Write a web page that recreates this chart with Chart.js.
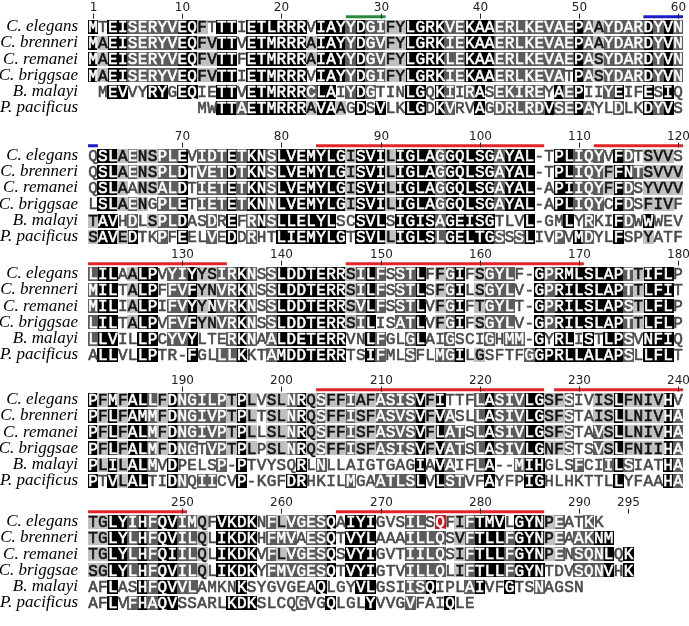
<!DOCTYPE html>
<html>
<head>
<meta charset="utf-8">
<script src="https://cdn.jsdelivr.net/npm/chart.js@4.4.0/dist/chart.umd.min.js"></script>
<style>html,body{margin:0;padding:0;background:#fff}</style>
</head>
<body>
<canvas id="alignment" width="689" height="626"></canvas>
<script>
var species = ['C. elegans', 'C. brenneri', 'C. remanei', 'C. briggsae', 'B. malayi', 'P. pacificus'];

// residues, 60 columns per block ('.' = no residue, '-' = gap)
var elegansSeq = [
  'MTEISERYVE QFTTTIETLR RRVIAYYDGI FYLGRKVEKA AERLKEVAEP AAYDARDYVN',
  'QSLAENSPLE VIDTETKNSL VEMYLGISVI LIGLAGGQLS GAYAL-TPLI QYVFDTSVVS',
  'LILAALPVYI YYSIRKNSSL DDTERRSILF SSTLFFGIFS GYLF-GPRML SLAPTTIFLP',
  'PFMFALLFDN GILPTPLVSL NRQSFFIAFA SISVFITTFL ASIVLGSFSI VISLFNIVHV',
  'TGLYIHFQVI MQFVKDKNFL VGESQAIYIG VSILSQFIFT MVLGYNPEAT KK'
];
var brenneriSeq = [
  'MAEISERYVE QFVTTVETMR RRAIAYYDGV FYLGRKIEKA AERLKEVAEP AAYDARDYVN',
  'QSLAENSPLD TVETDTKNSL VEMYLGISVI LIGLAGGQLS GAYAL-TPLI QYFFNTSVVV',
  'MILTALPFFV FYNVRKNSSL DDTERRSILF SSTLSFGILS GYLV-GPRIL SLAPTTLFIT',
  'PFLFAMMFDN GIVPTPLTSL NRQSFFISFA SVSVFVASLL ASIVLGSFST AISLLNIVHA',
  'TGLYLHFQVI LQLIKDKHFM VAESQTVYLA AAILLQSVFT LLFGYNPEAA KNM'
];
var remaneiSeq = [
  'MAEISERYVE QFVTTFETMR RRAIAYYDGV FYLGRKLEKA AERLKEVAEP ASYDARDYVN',
  'QSLAANSALD TIETETKNSL VEMYLGISVI LIGLAGGQLS GAYAL-APII QYFFDSYVVV',
  'MILIALPIFV YYNVRKNSSL DDTERRSVLF SSTLVFGIFT GYLT-GPRIL SLAPSTLFLP',
  'PFLFALMFDN GIVPTPLLSL NRQSFFISFA SVSVFLATSL ASIVLGSFST AVSLLNIVHA',
  'TGLYLHFQII LQLIKDKVFL VGESQSVYIG VTIILQSIFT LLFGYNPENS QNLQK'
];
var briggsaeSeq = [
  'MAEISERYVE QFVTTIETMR RRVIAYYDGI FYLGRKIEKA AERLKEVATP ASYDARDYVN',
  'LSLAENGPLE TIETETKNNL VEMYLGISVI LIGLAGGQLS GAYAL-APLI QYCFDSFIVF',
  'LILTALPVFV FYNVRKNSSL DDTERRSILI SATLVFGIFS GYLV-GPRIL SLAPTTLFLP',
  'PFLFALMFDN GTVPTPLPSL NRQSFFISFA SISVFVATSL ASIVLGNFST SVSLFNIIHA',
  'SGLYLHFQVI LQLIKDKYFM VGESQTVYIG TVILLQLIFT LLFGYNTDVS QNVHK'
];
var malayiSeq = [
  '.MEVVYRYGE QIETTVETMR RRCLAIYDGT INLGQKIIRA SEKIREYAEP IIYEIFESIQ',
  'TAVHDLSPLD ASDREFRNSL LELYLSCSVL SIGISAGEIS GTLVL-GMLY RKIFDWWWEV',
  'LLVILLPCYV YLTERKNAAL DETERRVNLF GLGLAIGSCI GHMM-GYRLI STLPSVNFIQ',
  'PLILALMVDP ELSP-PTVYS QRLNLLAIGT GAGIAVAIFL A--MIHGLSF CIILSIATHA',
  'AFLASHFQVV LAMKNKSYGV GEAQLGYVLG SIISQIPLAI VFGTSNAGSN'
];
var pacificusSeq = [
  '.......... .MWTTAETMR RRAVAAGDSV LKLGDKVRVA GDRLRDVSEP AYLDLKDYVS',
  'SAVEDTKPFE ELVEDDRHTL IEMYLGTSVL LIGLSLGELT GSSSLIVPVM DYLFSPYATF',
  'ALLVLLPTR- FGLLLKKTAM DDTERRTSIF MLSFLMGILG SFTFGGPRLL ALAPSLLFLT',
  'PTVLALTIDN QIICVP-KGF DRHKILMGAA TLSLVLSTVF AYFPIGHLHK TTLLYFAAHA',
  'AFLVFHAQVS SARLKDKSLC QGVGQLGLYV VGVFAIQLE'
];

// conservation shading per residue: 0 none, 1 light, 2 dark, 3 black, 4 red
var elegansShade = [
  '3033222223 3103303333 3303332322 1133332233 3222222223 2122223232',
  '0331211223 0222323323 3333331333 1333323333 3233300332 2203201110',
  '2330133022 3112232023 3333331232 0223012301 2220032333 3333213330',
  '3131332132 2222131011 2312112112 2223130002 3222331120 0113111130',
  '1133232332 2103333021 2222303330 0022040123 3303331200 20'
];
var brenneriShade = [
  '3133222223 3113303333 3313332322 1133332233 3222222223 2122223232',
  '0331211223 0222323323 3333331333 1333323333 3233300332 2213321111',
  '2330133022 3112232023 3333331232 0223012301 2220032333 3333213330',
  '3131332132 2222131011 2312112112 2223132002 3222331120 0113111132',
  '1133232332 2103333022 2022303330 0022220123 3323331202 233'
];
var remaneiShade = [
  '3133222223 3113303333 3313332322 1133332233 3222222223 2122223232',
  '0331011223 0222323323 3333331333 1333323333 3233300332 2213201111',
  '2330133022 3132232023 3333331232 0223012301 2220032333 3333213330',
  '3131332132 2222131011 2312112112 2223132202 3222331120 0213111132',
  '1133232332 2103333021 2222303330 0022220123 3323331202 22303'
];
var briggsaeShade = [
  '3133222223 3113303333 3303332322 1133332233 3222222203 2122223232',
  '0331210223 0222323323 3333331333 1333323333 3233300332 2203201110',
  '2330133022 3112232023 3333331230 0223012301 2220032333 3333213330',
  '3131332132 2022131011 2312112112 2223132202 3222331120 0213111132',
  '1133232332 2103333022 2222303330 0022220123 3323330002 22303'
];
var malayiShade = [
  '0033003303 3003303333 3323302320 0033032023 0222220323 0023003030',
  '1330201223 0020302323 3333300333 0333323333 3000300030 2003203000',
  '2330033022 3000232023 3333330032 0023002000 2022030330 3033203330',
  '3131332030 0002030000 0302000000 0003032002 3002330002 0023200032',
  '0030032332 2000030000 0003000330 0022300023 0030020000'
];
var pacificusShade = [
  '0000000000 0003323333 3313310303 0033032003 0222223223 2002003230',
  '1331300203 0020302003 3333330333 1333323333 3202300203 2003001000',
  '0330033000 3002230023 3333330032 0020022301 0000233333 3333203330',
  '3031330032 0220030000 3300002002 2223032200 3000330000 0003000032',
  '0030232330 0000333000 0200300030 002000300'
];

var positionLabels = [1, 10, 20, 30, 40, 50, 60, 70, 80, 90, 100, 110, 120,
  130, 140, 150, 160, 170, 180, 190, 200, 210, 220, 230, 240,
  250, 260, 270, 280, 290, 295];

// secondary structure, first and last residue
var helices = [[84, 106], [112, 134], [147, 170], [204, 226], [228, 250], [266, 286]];
var strands = [[27, 30]];
var turns = [[57, 61]];

var sequences = [elegansSeq, brenneriSeq, remaneiSeq, briggsaeSeq, malayiSeq, pacificusSeq];
var shading = [elegansShade, brenneriShade, remaneiShade, briggsaeShade, malayiShade, pacificusShade];

var BLOCK = 60;
var ROW_PX = 16.5;
var H = 626;
var BLOCK_TOP = [22, 153, 273, 401, 525];  // pixel row of first sequence in each block
var BAR_ROWS = 10 / ROW_PX;

function blockRow(b) { return BLOCK_TOP[b] / ROW_PX; }

var shadeColors = ['', '#c0c0c0', '#5c5c5c', '#000000', '#c8191f'];
var textColors = ['#4a4a4a', '#111111', '#ffffff', '#ffffff', '#ffffff'];

var cellData = [[], [], [], [], []];
var letters = [];
var rowTicks = [];
for (var b = 0; b < 5; b++) {
  for (var s = 0; s < species.length; s++) rowTicks.push(blockRow(b) + s);
}

sequences.forEach(function (blocks, s) {
  blocks.forEach(function (str, b) {
    var seq = str.replace(/ /g, '');
    var shd = shading[s][b].replace(/ /g, '');
    for (var i = 0; i < seq.length; i++) {
      var ch = seq[i];
      if (ch === '.') continue;
      var level = +(shd[i] || 0);
      var pt = {x: i + 1, y: blockRow(b) + s};
      if (level > 0) cellData[level].push(pt);
      letters.push({x: pt.x, y: pt.y, ch: ch, level: level});
    }
  });
});

function barData(features) {
  var pts = [];
  features.forEach(function (f) {
    var b0 = Math.floor((f[0] - 1) / BLOCK), b1 = Math.floor((f[1] - 1) / BLOCK);
    for (var b = b0; b <= b1; b++) {
      var a = Math.max(f[0], b * BLOCK + 1) - b * BLOCK;
      var e = Math.min(f[1], b * BLOCK + BLOCK) - b * BLOCK;
      var yy = blockRow(b) - BAR_ROWS;
      pts.push({x: a - 0.5, y: yy}, {x: e + 0.5, y: yy}, {x: e + 0.5, y: null});
    }
  });
  return pts;
}

function cellStyle(color) {
  var cache = {};
  return function (ctx) {
    var sx = ctx.chart.scales.x, sy = ctx.chart.scales.y;
    if (!sx || !sy) return 'rect';
    var w = Math.ceil(Math.abs(sx.getPixelForValue(1) - sx.getPixelForValue(0))) + 1;
    var h = Math.round(Math.abs(sy.getPixelForValue(1) - sy.getPixelForValue(0)) - 2.5);
    var key = w + 'x' + h;
    if (!cache[key]) {
      var c = document.createElement('canvas');
      c.width = w; c.height = h;
      var g = c.getContext('2d');
      g.fillStyle = color;
      g.fillRect(0, 0, w, h);
      cache[key] = c;
    }
    return cache[key];
  };
}

var datasets = [];
[1, 2, 3, 4].forEach(function (level) {
  datasets.push({
    data: cellData[level],
    pointStyle: cellStyle(shadeColors[level]),
    pointRadius: 5,
    pointBackgroundColor: shadeColors[level],
    pointBorderWidth: 0
  });
});
[[helices, '#e3242b'], [strands, '#2a8a3c'], [turns, '#1d1dcc']].forEach(function (f) {
  datasets.push({
    data: barData(f[0]),
    showLine: true,
    spanGaps: false,
    borderColor: f[1],
    borderWidth: 3,
    borderCapStyle: 'butt',
    pointRadius: 0
  });
});

var alignmentText = {
  id: 'alignmentText',
  afterDatasetsDraw: function (chart) {
    var ctx = chart.ctx, sx = chart.scales.x, sy = chart.scales.y;
    ctx.save();
    ctx.font = '16px "Liberation Mono", "Courier New", monospace';
    ctx.textAlign = 'center';
    ctx.textBaseline = 'middle';
    ctx.lineWidth = 0.6;
    letters.forEach(function (l) {
      var c = l.ch === '-' ? '#555' : textColors[l.level];
      var px = sx.getPixelForValue(l.x), py = sy.getPixelForValue(l.y) + 1;
      ctx.fillStyle = c;
      ctx.strokeStyle = c;
      ctx.fillText(l.ch, px, py);
      ctx.strokeText(l.ch, px, py);
    });

    ctx.font = '12px "DejaVu Sans", sans-serif';
    ctx.fillStyle = '#222';
    ctx.strokeStyle = '#222';
    ctx.lineWidth = 1;
    positionLabels.forEach(function (p) {
      var b = Math.floor((p - 1) / BLOCK);
      var px = Math.round(sx.getPixelForValue(p - b * BLOCK)) + 0.5;
      var yc = sy.getPixelForValue(blockRow(b));
      ctx.fillText(String(p), px, Math.max(yc - 19, 6));
      ctx.beginPath();
      ctx.moveTo(px, yc - 13);
      ctx.lineTo(px, yc - 8);
      ctx.stroke();
    });
    ctx.restore();
  }
};

new Chart(document.getElementById('alignment').getContext('2d'), {
  type: 'scatter',
  data: {datasets: datasets},
  options: {
    responsive: false,
    devicePixelRatio: 1,
    animation: false,
    events: [],
    layout: {padding: {left: 0, right: 6, top: 0, bottom: 0}},
    plugins: {legend: {display: false}, tooltip: {enabled: false}},
    scales: {
      x: {type: 'linear', min: 0.5, max: BLOCK + 0.5, display: false},
      y: {
        type: 'linear',
        reverse: true,
        bounds: 'data',
        min: 0,
        max: H / ROW_PX,
        grid: {display: false, drawTicks: false},
        border: {display: false},
        afterBuildTicks: function (scale) {
          scale.ticks = rowTicks.map(function (v) { return {value: v}; });
        },
        afterFit: function (scale) {
          scale.width = 88;
          scale.paddingTop = 0;
          scale.paddingBottom = 0;
        },
        ticks: {
          autoSkip: false,
          padding: 10,
          color: '#000',
          font: {family: '"Liberation Serif", serif', size: 17, style: 'italic'},
          callback: function (v, i) { return species[i % species.length]; }
        }
      }
    }
  },
  plugins: [alignmentText]
});
</script>
</body>
</html>
